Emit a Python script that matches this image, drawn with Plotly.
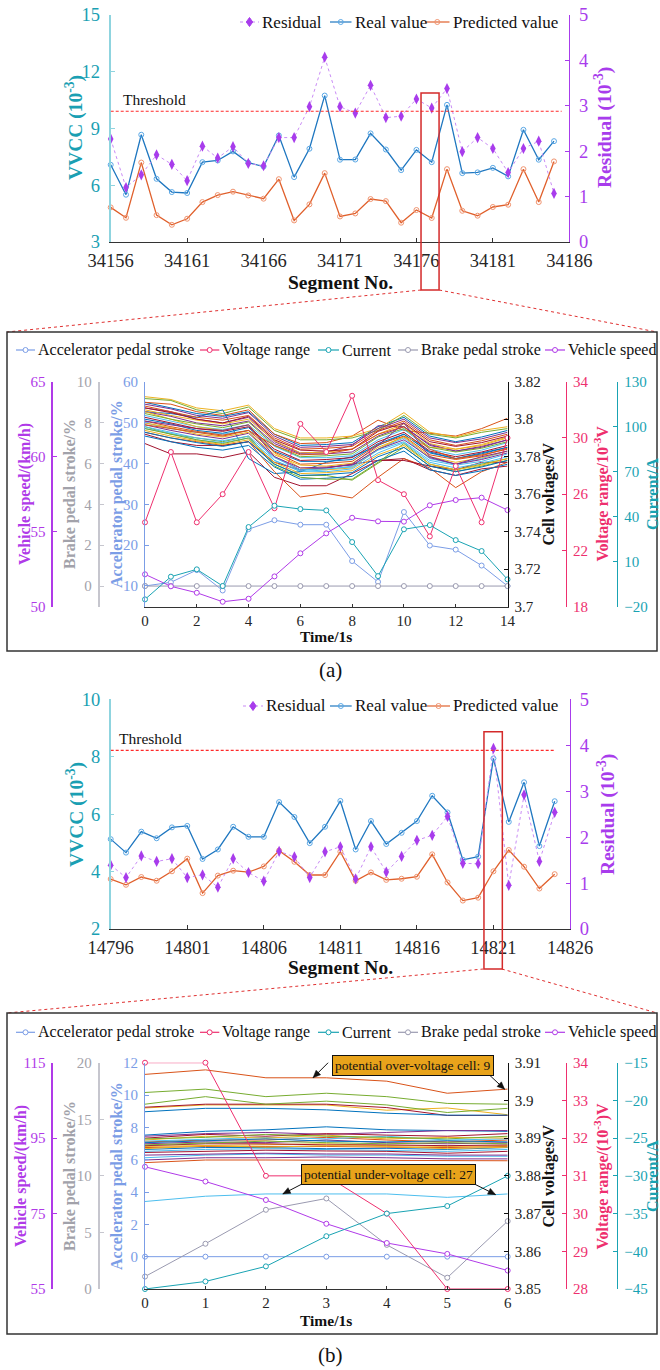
import math
import plotly.graph_objects as go

W, H = 660, 1370
SERIF = "Liberation Serif"


def X(p):
    return p / W


def Y(p):
    return 1 - p / H


# ---------------------------------------------------------------- colours
TEAL = "#1a9fb3"
TEAL_LINE = "#8fd4df"
VIOLET = "#a83cec"
RES_LINE = "#c98bf5"
REAL = "#1f77c0"
REAL_MK = "#5aa8e6"
PRED = "#e0602c"
PRED_MK = "#f09470"
THR = "#ff2a2a"
BOX_RED = "#d42a2a"
ACC = "#7b9de6"
VR = "#ee2f6e"
CUR = "#19a3b3"
BRK = "#9a9ab0"
BRK_TXT = "#a2a2aa"
BRK_AX = "#c6c6ce"
SPD = "#b03ae8"
CELL_COLORS = ["#0072BD", "#D95319", "#EDB120", "#7E2F8E", "#77AC30", "#4DBEEE", "#A2142F"]

# ---------------------------------------------------------------- (a) segment-level VVCC
seg_a = list(range(34156, 34186))
real_a = [7.08, 5.50, 8.67, 6.34, 5.64, 5.59, 7.22, 7.31, 7.79, 7.19, 6.99, 8.63, 6.43, 7.93, 10.74,
          7.35, 7.36, 8.74, 7.89, 6.80, 7.87, 7.22, 10.25, 6.64, 6.68, 6.92, 6.47, 8.93, 7.35, 8.33]
pred_a = [4.83, 4.28, 7.20, 4.42, 3.91, 4.23, 5.11, 5.48, 5.66, 5.46, 5.29, 6.32, 4.14, 4.99, 6.64,
          4.35, 4.51, 5.27, 5.16, 4.02, 4.69, 4.27, 6.85, 4.65, 4.39, 4.85, 4.97, 6.85, 5.11, 7.26]
resid_a = [2.27, 1.20, 1.48, 1.92, 1.71, 1.35, 2.11, 1.85, 2.10, 1.73, 1.68, 2.30, 2.30, 2.98, 4.07,
           2.98, 2.84, 3.45, 2.74, 2.77, 3.15, 2.95, 3.38, 1.99, 2.30, 2.06, 1.53, 2.06, 2.22, 1.07]
threshold_a = 2.88
flag_a = 34177

# ---------------------------------------------------------------- (a) 15 s window
time_a = list(range(15))
accel_a = [10.0, 10.9, 13.9, 8.9, 23.9, 26.1, 25.0, 25.0, 16.1, 11.0, 28.1, 19.9, 18.9, 15.0, 10.0]
vrange_a = [24, 29, 24, 26, 29, 25, 31, 29, 33, 27, 26, 23, 28, 24, 30]
current_a = [-15.1, 0.0, 4.9, -6.2, 33.1, 47.3, 45.1, 44.2, 23.1, 0.4, 31.6, 34.4, 24.4, 17.1, -1.8]
brake_a = [0, 0, 0, 0, 0, 0, 0, 0, 0, 0, 0, 0, 0, 0, 0]
speed_a = [52.16, 51.36, 50.93, 50.33, 50.53, 52.02, 53.56, 54.89, 55.93, 55.69, 55.67, 56.76, 57.11, 57.27, 56.44]
cells_a = [
    [3.809, 3.806, 3.803, 3.8015, 3.804, 3.792, 3.786, 3.7865, 3.7875, 3.796, 3.801, 3.791, 3.788, 3.7905, 3.794],
    [3.809, 3.808, 3.804, 3.802, 3.805, 3.792, 3.787, 3.7875, 3.791, 3.7995, 3.794, 3.7925, 3.791, 3.795, 3.8005],
    [3.812, 3.8105, 3.806, 3.8045, 3.8075, 3.795, 3.790, 3.790, 3.791, 3.795, 3.8035, 3.793, 3.7905, 3.794, 3.796],
    [3.806, 3.804, 3.800, 3.798, 3.801, 3.788, 3.782, 3.7825, 3.786, 3.7965, 3.796, 3.786, 3.783, 3.785, 3.789],
    [3.811, 3.810, 3.805, 3.803, 3.8065, 3.794, 3.789, 3.789, 3.790, 3.794, 3.802, 3.792, 3.790, 3.793, 3.795],
    [3.798, 3.795, 3.793, 3.792, 3.794, 3.778, 3.772, 3.773, 3.775, 3.784, 3.790, 3.779, 3.776, 3.779, 3.783],
    [3.787, 3.7815, 3.7815, 3.7795, 3.7825, 3.769, 3.7645, 3.7645, 3.771, 3.778, 3.779, 3.773, 3.770, 3.7735, 3.775],
    [3.804, 3.803, 3.801, 3.805, 3.779, 3.771, 3.772, 3.777, 3.780, 3.786, 3.792, 3.782, 3.779, 3.782, 3.785],
    [3.793, 3.790, 3.788, 3.786, 3.788, 3.772, 3.7585, 3.7605, 3.758, 3.769, 3.779, 3.774, 3.7635, 3.772, 3.777],
    [3.805, 3.802, 3.7995, 3.7975, 3.800, 3.7885, 3.782, 3.7825, 3.784, 3.792, 3.7975, 3.787, 3.784, 3.7865, 3.7905],
    [3.804, 3.8015, 3.798, 3.7965, 3.799, 3.787, 3.7815, 3.7815, 3.7825, 3.791, 3.796, 3.7865, 3.783, 3.7855, 3.789],
    [3.796, 3.792, 3.790, 3.788, 3.791, 3.776, 3.770, 3.770, 3.7675, 3.7765, 3.785, 3.775, 3.772, 3.775, 3.778],
    [3.802, 3.799, 3.796, 3.7945, 3.797, 3.7855, 3.7795, 3.7795, 3.7805, 3.789, 3.7945, 3.784, 3.781, 3.7835, 3.7875],
    [3.792, 3.788, 3.786, 3.786, 3.788, 3.777, 3.773, 3.774, 3.776, 3.778, 3.778, 3.775, 3.773, 3.777, 3.777],
    [3.800, 3.7975, 3.794, 3.7925, 3.7955, 3.783, 3.7775, 3.7775, 3.7785, 3.787, 3.792, 3.7825, 3.779, 3.7815, 3.785],
    [3.807, 3.804, 3.801, 3.7995, 3.802, 3.790, 3.784, 3.7845, 3.7855, 3.794, 3.799, 3.789, 3.786, 3.7885, 3.792],
    [3.804, 3.800, 3.796, 3.794, 3.797, 3.782, 3.774, 3.773, 3.774, 3.784, 3.791, 3.785, 3.784, 3.786, 3.790],
    [3.797, 3.794, 3.7915, 3.7895, 3.7925, 3.780, 3.774, 3.7745, 3.7755, 3.784, 3.789, 3.7795, 3.776, 3.7785, 3.782],
    [3.803, 3.800, 3.7975, 3.7955, 3.7985, 3.786, 3.780, 3.7805, 3.7815, 3.7905, 3.795, 3.785, 3.7825, 3.7845, 3.788],
    [3.795, 3.7925, 3.789, 3.7875, 3.790, 3.778, 3.7725, 3.772, 3.7735, 3.782, 3.7875, 3.777, 3.774, 3.7765, 3.780],
    [3.806, 3.8035, 3.800, 3.798, 3.8015, 3.789, 3.7835, 3.783, 3.784, 3.7935, 3.798, 3.788, 3.7855, 3.7875, 3.791],
    [3.791, 3.788, 3.785, 3.7835, 3.786, 3.7745, 3.768, 3.7685, 3.7695, 3.778, 3.783, 3.773, 3.770, 3.7725, 3.776],
    [3.799, 3.796, 3.7935, 3.7915, 3.794, 3.7825, 3.776, 3.7765, 3.7775, 3.7865, 3.791, 3.781, 3.7785, 3.7805, 3.7845],
    [3.798, 3.7955, 3.792, 3.7905, 3.793, 3.781, 3.7755, 3.775, 3.7765, 3.785, 3.7905, 3.780, 3.777, 3.7795, 3.783],
    [3.799, 3.797, 3.795, 3.794, 3.797, 3.780, 3.773, 3.774, 3.776, 3.786, 3.798, 3.780, 3.776, 3.780, 3.783],
    [3.795, 3.792, 3.789, 3.787, 3.790, 3.775, 3.769, 3.768, 3.768, 3.777, 3.787, 3.776, 3.773, 3.776, 3.779],
    [3.796, 3.793, 3.790, 3.7885, 3.791, 3.7795, 3.773, 3.7735, 3.7745, 3.7835, 3.788, 3.778, 3.7755, 3.7775, 3.7815],
    [3.801, 3.798, 3.795, 3.7935, 3.796, 3.784, 3.778, 3.7785, 3.7795, 3.788, 3.793, 3.783, 3.780, 3.7825, 3.786],
    [3.793, 3.790, 3.7875, 3.7855, 3.788, 3.776, 3.770, 3.7705, 3.7715, 3.780, 3.785, 3.775, 3.772, 3.7745, 3.778],
    [3.797, 3.795, 3.793, 3.791, 3.794, 3.786, 3.781, 3.7815, 3.784, 3.792, 3.796, 3.784, 3.779, 3.781, 3.784],
    [3.794, 3.791, 3.7885, 3.7865, 3.789, 3.777, 3.771, 3.7715, 3.7725, 3.781, 3.786, 3.776, 3.773, 3.7755, 3.779],
    [3.808, 3.8055, 3.802, 3.8005, 3.8035, 3.791, 3.785, 3.7855, 3.7865, 3.795, 3.800, 3.790, 3.7875, 3.7895, 3.793],
]
cell_ticks_a = [3.70, 3.72, 3.74, 3.76, 3.78, 3.80, 3.82]
cell_labels_a = ["3.7", "3.72", "3.74", "3.76", "3.78", "3.8", "3.82"]

# ---------------------------------------------------------------- (b) segment-level VVCC
seg_b = list(range(14796, 14826))
real_b = [5.13, 4.66, 5.39, 5.16, 5.54, 5.59, 4.44, 4.77, 5.56, 5.21, 5.21, 6.42, 5.90, 4.99, 5.56,
          6.46, 4.77, 5.76, 4.96, 5.35, 5.76, 6.64, 6.06, 4.41, 4.52, 7.94, 5.73, 7.11, 4.89, 6.45]
pred_b = [3.74, 3.54, 3.81, 3.68, 4.01, 4.45, 3.25, 3.86, 4.03, 3.98, 4.18, 4.73, 4.34, 3.88, 3.88,
          4.69, 3.68, 3.97, 3.71, 3.75, 3.82, 4.60, 3.62, 2.99, 3.09, 4.01, 4.75, 4.17, 3.41, 3.91]
resid_b = [1.39, 1.12, 1.59, 1.47, 1.53, 1.12, 1.18, 0.91, 1.53, 1.23, 1.04, 1.69, 1.57, 1.12, 1.68,
           1.79, 1.09, 1.79, 1.24, 1.58, 1.93, 2.04, 2.45, 1.43, 1.42, 3.93, 0.95, 2.92, 1.47, 2.54]
threshold_b = 3.89
flag_b = 14821

# ---------------------------------------------------------------- (b) 7 s window
time_b = [0, 1, 2, 3, 4, 5, 6]
accel_b = [0, 0, 0, 0, 0, 0, 0]
vrange_b = [34, 34, 31, 31, 30, 28, 28]
current_b = [-45, -44, -42, -38, -35, -34, -30]
brake_b = [1.1, 4.0, 7.0, 8.0, 3.9, 1.0, 6.0]
speed_b = [87.4, 83.5, 78.6, 72.3, 67.2, 64.3, 59.9]
cells_b = [
    [3.8908, 3.8918, 3.8922, 3.8930, 3.8922, 3.8920, 3.8918],
    [3.8890, 3.8895, 3.8895, 3.8902, 3.8895, 3.8890, 3.8895],
    [3.8980, 3.8988, 3.8988, 3.8988, 3.8974, 3.8980, 3.8962],
    [3.8905, 3.8912, 3.8915, 3.8910, 3.8915, 3.8920, 3.8920],
    [3.9021, 3.9030, 3.9010, 3.9019, 3.9010, 3.8992, 3.8990],
    [3.8892, 3.8898, 3.8902, 3.8898, 3.8905, 3.8895, 3.8898],
    [3.8982, 3.8990, 3.8990, 3.8990, 3.8981, 3.8960, 3.8960],
    [3.8970, 3.8979, 3.8979, 3.8975, 3.8966, 3.8961, 3.8961],
    [3.9069, 3.9081, 3.9060, 3.9060, 3.9051, 3.9019, 3.9030],
    [3.8895, 3.8905, 3.8900, 3.8908, 3.8898, 3.8902, 3.8900],
    [3.8885, 3.8890, 3.8888, 3.8895, 3.8888, 3.8885, 3.8888],
    [3.8990, 3.9010, 3.8990, 3.8998, 3.8988, 3.8968, 3.8979],
    [3.8848, 3.8855, 3.8858, 3.8855, 3.8855, 3.8852, 3.8852],
    [3.8900, 3.8910, 3.8905, 3.8912, 3.8908, 3.8905, 3.8912],
    [3.8888, 3.8892, 3.8898, 3.8892, 3.8890, 3.8893, 3.8890],
    [3.8875, 3.8878, 3.8878, 3.8878, 3.8876, 3.8875, 3.8878],
    [3.8878, 3.8880, 3.8882, 3.8885, 3.8880, 3.8878, 3.8880],
    [3.8855, 3.8858, 3.8860, 3.8858, 3.8858, 3.8855, 3.8855],
    [3.8898, 3.8902, 3.8910, 3.8905, 3.8902, 3.8898, 3.8905],
    [3.8865, 3.8870, 3.8872, 3.8870, 3.8868, 3.8865, 3.8870],
    [3.8880, 3.8885, 3.8885, 3.8882, 3.8882, 3.8880, 3.8882],
    [3.8870, 3.8875, 3.8875, 3.8872, 3.8873, 3.8870, 3.8875],
    [3.8835, 3.8842, 3.8842, 3.8842, 3.8842, 3.8840, 3.8840],
    [3.8872, 3.8880, 3.8876, 3.8880, 3.8878, 3.8872, 3.8876],
    [3.8842, 3.8848, 3.8848, 3.8850, 3.8848, 3.8845, 3.8845],
    [3.8882, 3.8888, 3.8892, 3.8888, 3.8885, 3.8888, 3.8885],
    [3.8732, 3.8746, 3.8752, 3.8752, 3.8752, 3.8743, 3.8752],
    [3.8862, 3.8865, 3.8868, 3.8866, 3.8865, 3.8860, 3.8865],
]
over_cell = 9
under_cell = 27
cell_ticks_b = [3.85, 3.86, 3.87, 3.88, 3.89, 3.90, 3.91]
cell_labels_b = ["3.85", "3.86", "3.87", "3.88", "3.89", "3.9", "3.91"]

legend_top = ["Residual", "Real value", "Predicted value"]
legend_panel = ["Accelerator pedal stroke", "Voltage range", "Current", "Brake pedal stroke", "Vehicle speed"]

# ================================================================ figure
fig = go.Figure()
shapes, annots = [], []


def add_top(xa, ya, yr, segs, real, pred, resid):
    fig.add_trace(go.Scatter(x=segs, y=real, xaxis=xa, yaxis=ya, mode="lines+markers",
                             line=dict(color=REAL, width=1.3),
                             marker=dict(symbol="circle-open", size=5, color=REAL_MK, line=dict(width=1)),
                             cliponaxis=False))
    fig.add_trace(go.Scatter(x=segs, y=pred, xaxis=xa, yaxis=ya, mode="lines+markers",
                             line=dict(color=PRED, width=1.3),
                             marker=dict(symbol="circle-open", size=5, color=PRED_MK, line=dict(width=1)),
                             cliponaxis=False))
    fig.add_trace(go.Scatter(x=segs, y=resid, xaxis=xa, yaxis=yr, mode="lines+markers",
                             line=dict(color=RES_LINE, width=1, dash="dot"),
                             marker=dict(symbol="diamond-tall", size=8, color=VIOLET),
                             cliponaxis=False))


def add_panel(xa, ycell, yacc, ybrk, yspd, yvr, ycur, t, cells, acc, brk, spd, vr, cur):
    for i, row in enumerate(cells):
        fig.add_trace(go.Scatter(x=t, y=row, xaxis=xa, yaxis=ycell, mode="lines",
                                 line=dict(color=CELL_COLORS[i % 7], width=1), hoverinfo="skip"))
    for vals, ya, col in [(acc, yacc, ACC), (brk, ybrk, BRK), (spd, yspd, SPD), (vr, yvr, VR), (cur, ycur, CUR)]:
        fig.add_trace(go.Scatter(x=t, y=vals, xaxis=xa, yaxis=ya, mode="lines+markers",
                                 line=dict(color=col, width=1),
                                 marker=dict(symbol="circle", size=5, color="white", line=dict(color=col, width=1)),
                                 cliponaxis=False))


add_top("x", "y", "y2", seg_a, real_a, pred_a, resid_a)
add_panel("x2", "y3", "y4", "y5", "y6", "y7", "y8", time_a, cells_a, accel_a, brake_a, speed_a, vrange_a, current_a)
add_top("x3", "y9", "y10", seg_b, real_b, pred_b, resid_b)
add_panel("x4", "y11", "y12", "y13", "y14", "y15", "y16", time_b, cells_b, accel_b, brake_b, speed_b, vrange_b, current_b)


# ---------------------------------------------------------------- axes
def xax(domain, rng, tickvals, anchor, size, ticklen=4, standoff=0):
    return dict(domain=domain, range=rng, tickmode="array", tickvals=tickvals, anchor=anchor,
                tickformat="d", automargin=False, ticklabelstandoff=standoff,
                showgrid=False, zeroline=False, showline=True, linecolor="#333", linewidth=1,
                ticks="inside", ticklen=ticklen, tickcolor="#333",
                tickfont=dict(family=SERIF, size=size, color="#262626"))


def yax(rng, tickvals, color, linecolor=None, size=15, side="left", anchor=None, position=None,
        overlaying=None, domain=None, linewidth=1, ticktext=None, standoff=3):
    lc = linecolor or color
    d = dict(range=rng, tickmode="array", tickvals=tickvals, side=side, showgrid=False, zeroline=False,
             automargin=False,
             showline=True, linecolor=lc, linewidth=linewidth, ticks="inside", ticklen=4, tickcolor=lc,
             tickfont=dict(family=SERIF, size=size, color=color), ticklabelstandoff=standoff)
    if ticktext is not None:
        d["ticktext"] = ticktext
    if domain is not None:
        d["domain"] = domain
    if overlaying:
        d["overlaying"] = overlaying
    if position is not None:
        d["anchor"] = "free"
        d["position"] = position
    else:
        d["anchor"] = anchor
    return d


top_a_dom_y = [Y(242), Y(15)]
panel_a_dom_y = [Y(606.7), Y(381.7)]
top_b_dom_y = [Y(929), Y(699.3)]
panel_b_dom_y = [Y(1289), Y(1062.7)]
panel_b_x = (145, 507.7)

layout_axes = dict(
    xaxis=xax([X(110.7), X(569.3)], [34156, 34186], list(range(34156, 34187, 5)), "y", 18.5, standoff=2),
    yaxis=yax([3, 15], [3, 6, 9, 12, 15], TEAL, TEAL_LINE, 18.5, "left", "x", domain=top_a_dom_y,
              linewidth=2, standoff=5),
    yaxis2=yax([0, 5], [0, 1, 2, 3, 4, 5], VIOLET, VIOLET, 18.5, "right", "x", overlaying="y", standoff=5),

    xaxis2=xax([X(145), X(507.5)], [0, 14], list(range(0, 15, 2)), "y3", 15, ticklen=3),
    yaxis3=yax([3.70, 3.82], cell_ticks_a, "#222", "#111", 15, "right", "x2", domain=panel_a_dom_y,
               ticktext=cell_labels_a),
    yaxis4=yax([4.93, 60], [10, 20, 30, 40, 50, 60], ACC, ACC, 15, "left", "x2", overlaying="y3"),
    yaxis5=yax([-1.01, 10], [0, 2, 4, 6, 8, 10], BRK_TXT, BRK_AX, 15, "left", position=X(98.7),
               overlaying="y3", linewidth=2),
    yaxis6=yax([50, 65], [50, 55, 60, 65], SPD, SPD, 15, "left", position=X(52.3), overlaying="y3",
               linewidth=1.5),
    yaxis7=yax([18, 34], [18, 22, 26, 30, 34], VR, VR, 15, "right", position=X(566), overlaying="y3"),
    yaxis8=yax([-20, 130], [-20, 10, 40, 70, 100, 130], CUR, CUR, 15, "right", position=X(617.3),
               overlaying="y3"),

    xaxis3=xax([X(110.7), X(570)], [14796, 14826], list(range(14796, 14827, 5)), "y9", 18.5, standoff=2),
    yaxis9=yax([2, 10], [2, 4, 6, 8, 10], TEAL, TEAL_LINE, 18.5, "left", "x3", domain=top_b_dom_y,
               linewidth=1.5, standoff=5),
    yaxis10=yax([0, 5], [0, 1, 2, 3, 4, 5], VIOLET, VIOLET, 18.5, "right", "x3", overlaying="y9", standoff=5),

    xaxis4=xax([X(panel_b_x[0]), X(panel_b_x[1])], [0, 6], list(range(0, 7)), "y11", 15, ticklen=3),
    yaxis11=yax([3.85, 3.91], cell_ticks_b, "#222", "#111", 15, "right", "x4", domain=panel_b_dom_y,
                ticktext=cell_labels_b),
    yaxis12=yax([-2, 12], [0, 2, 4, 6, 8, 10, 12], ACC, ACC, 15, "left", "x4", overlaying="y11"),
    yaxis13=yax([0, 20], [0, 5, 10, 15, 20], BRK_TXT, BRK_AX, 15, "left", position=X(98.7),
                overlaying="y11", linewidth=2),
    yaxis14=yax([55, 115], [55, 75, 95, 115], SPD, SPD, 15, "left", position=X(52.3), overlaying="y11",
                linewidth=1.5),
    yaxis15=yax([28, 34], [28, 29, 30, 31, 32, 33, 34], VR, VR, 15, "right", position=X(566),
                overlaying="y11"),
    yaxis16=yax([-45, -15], [-45, -40, -35, -30, -25, -20, -15], CUR, CUR, 15, "right",
                position=X(617.3), overlaying="y11"),
)


# ---------------------------------------------------------------- text helpers
def txt(x, y, s, size, color="#111", bold=False, angle=0, xanchor="center", **kw):
    if bold:
        s = "<b>" + s + "</b>"
    d = dict(x=X(x), y=Y(y), xref="paper", yref="paper", text=s, showarrow=False,
             font=dict(family=SERIF, size=size, color=color), textangle=angle,
             xanchor=xanchor, yanchor="middle")
    d.update(kw)
    annots.append(d)


def legend_item(x0, x1, y, color, dash, mk, mk_line, mk_fill, label, size):
    shapes.append(dict(type="line", xref="paper", yref="paper", x0=X(x0), x1=X(x1), y0=Y(y), y1=Y(y),
                       line=dict(color=color, width=1.2, dash=dash)))
    xc = (x0 + x1) / 2
    if mk == "diamond":
        shapes.append(dict(type="path", xref="paper", yref="paper", xsizemode="pixel", ysizemode="pixel",
                           xanchor=X(xc), yanchor=Y(y), path="M0,4.5 L3.2,0 L0,-4.5 L-3.2,0 Z",
                           fillcolor=mk_line, line=dict(color=mk_line, width=1)))
    else:
        shapes.append(dict(type="circle", xref="paper", yref="paper", xsizemode="pixel", ysizemode="pixel",
                           xanchor=X(xc), yanchor=Y(y), x0=-2.5, x1=2.5, y0=-2.5, y1=2.5,
                           fillcolor=mk_fill, line=dict(color=mk_line, width=1)))
    txt(x1 + 1, y, label, size, "#111", xanchor="left")


# ---------------------------------------------------------------- top chart decorations
def top_decor(xref, yref_res, thr, thr_x1, x0seg, flag, flag_half, rect_top, rect_bot,
              legend_y, leg_x, vvcc_y, res_x, seg_y, thr_txt, panel_top):
    shapes.append(dict(type="line", xref=xref, yref=yref_res, x0=x0seg, x1=thr_x1, y0=thr, y1=thr,
                       line=dict(color=THR, width=1.2, dash="3px,2px")))
    txt(thr_txt[0], thr_txt[1], "Threshold", 15.5, "#111", xanchor="left")
    shapes.append(dict(type="rect", xref=xref, yref="paper", x0=flag - flag_half[0], x1=flag + flag_half[1],
                       y0=Y(rect_bot), y1=Y(rect_top), line=dict(color=BOX_RED, width=1.5)))
    # zoom guides toward the detail panel
    xl = (flag - flag_half[0] - x0seg) * 15.29 + 110.7
    xr = (flag + flag_half[1] - x0seg) * 15.29 + 110.7
    for xa_, xb_ in [(xl, 7), (xr, 657)]:
        shapes.append(dict(type="line", xref="paper", yref="paper", x0=X(xa_), x1=X(xb_),
                           y0=Y(rect_bot), y1=Y(panel_top), line=dict(color="#e03030", width=1, dash="dot")))
    legend_item(leg_x[0][0], leg_x[0][1], legend_y, RES_LINE, "dot", "diamond", VIOLET, VIOLET, legend_top[0], 17)
    legend_item(leg_x[1][0], leg_x[1][1], legend_y, REAL, "solid", "circle", REAL_MK, "rgba(0,0,0,0)", legend_top[1], 17)
    legend_item(leg_x[2][0], leg_x[2][1], legend_y, PRED, "solid", "circle", PRED_MK, "rgba(0,0,0,0)", legend_top[2], 17)
    txt(75, vvcc_y, "VVCC (10<sup>-3</sup>)", 19.5, TEAL, bold=True, angle=-90)
    txt(res_x, vvcc_y, "Residual (10<sup>-3</sup>)", 19.5, VIOLET, bold=True, angle=-90)
    txt(340, seg_y, "Segment No.", 19.5, "#111", bold=True)


top_decor("x", "y2", threshold_a, 34185.5, 34156, flag_a, (0.7, 0.48), 93, 290,
          22, [(240, 259), (330, 351.5), (425, 449.5)], 128, 604, 282, (121, 99), 332)
top_decor("x3", "y10", threshold_b, 14825, 14796, flag_b, (0.62, 0.58), 731.7, 969,
          706, [(243, 263), (330, 351.7), (427, 450)], 815, 606, 967, (117, 738), 1013)


# ---------------------------------------------------------------- panel decorations
def panel_decor(top, bot, leg_y, mid_y, time_y, vr_title, spd_x):
    shapes.append(dict(type="rect", xref="paper", yref="paper", x0=X(7), x1=X(657), y0=Y(bot), y1=Y(top),
                       line=dict(color="#333", width=1.5)))
    cols = [ACC, VR, CUR, BRK, SPD]
    xs = [(16, 35), (200, 219.3), (318, 339), (398, 418), (545, 565)]
    for (a, b), c, lab in zip(xs, cols, legend_panel):
        legend_item(a, b, leg_y, c, "solid", "circle", c, "white", lab, 16)
    txt(spd_x, mid_y, "Vehicle speed/(km/h)", 16, SPD, bold=True, angle=-90)
    txt(70, mid_y, "Brake pedal stroke/%", 16, BRK_TXT, bold=True, angle=-90)
    txt(117, mid_y, "Accelerator pedal stroke/%", 16, ACC, bold=True, angle=-90)
    txt(548.5, mid_y, "Cell voltages/V", 16, "#111", bold=True, angle=-90)
    txt(601.5, mid_y, vr_title, 16, VR, bold=True, angle=-90)
    txt(652, mid_y, "Current/A", 16, CUR, bold=True, angle=-90)
    txt(326, time_y, "Time/1s", 15.5, "#111", bold=True)


panel_decor(332, 651, 350, 494, 636.5, "Voltage range/10<sup>-3</sup>V", 25)
panel_decor(1013, 1334, 1032.3, 1176, 1320, "Voltage range/(10<sup>-3</sup>)V", 21)

txt(330, 670, "(a)", 21, "#111")
txt(330, 1355, "(b)", 21, "#111")

# ---------------------------------------------------------------- (b) call-outs
GOLD = "#e8a31b"
txt(412.5, 1065, "potential over-voltage cell: " + str(over_cell), 13.5, "#111",
    bgcolor=GOLD, bordercolor="#111", borderwidth=1, borderpad=2)
txt(388.5, 1174, "potential under-voltage cell: " + str(under_cell), 13.5, "#111",
    bgcolor=GOLD, bordercolor="#111", borderwidth=1, borderpad=2)

# arrows from the call-outs to the flagged cell traces (tail offsets in pixels)
t_per_px = 6 / (panel_b_x[1] - panel_b_x[0])
v_per_px = 0.06 / (1289 - 1062.7)
over_row = cells_b[over_cell - 1]
under_row = cells_b[under_cell - 1]
for (tx, row, ax, ay) in [(2.78, over_row, 20, -20), (5.95, over_row, -16, -15),
                          (2.28, under_row, 25, -13), (5.8, under_row, -26, -13)]:
    i0 = int(tx)
    yv = row[i0] + (row[i0 + 1] - row[i0]) * (tx - i0)
    shapes.append(dict(type="line", xref="x4", yref="y11", x0=tx + ax * t_per_px, y0=yv - ay * v_per_px,
                       x1=tx, y1=yv, line=dict(color="#111", width=1)))
    ux, uy = -ax, ay
    n = math.hypot(ux, uy)
    ux, uy = ux / n, uy / n
    L, w = 7.5, 3.2
    bx, by = -L * ux, -L * uy
    lx, ly = bx - w * uy, by + w * ux
    rx, ry = bx + w * uy, by - w * ux
    shapes.append(dict(type="path", xref="x4", yref="y11", xsizemode="pixel", ysizemode="pixel",
                       xanchor=tx, yanchor=yv,
                       path=f"M0,0 L{lx:.2f},{ly:.2f} L{rx:.2f},{ry:.2f} Z",
                       fillcolor="#111", line=dict(color="#111", width=0.5)))

fig.update_layout(
    width=W, height=H, autosize=False, margin=dict(l=0, r=0, t=0, b=0, autoexpand=False),
    paper_bgcolor="white", plot_bgcolor="rgba(0,0,0,0)", showlegend=False,
    font=dict(family=SERIF, color="#111"), hovermode=False,
    shapes=shapes, annotations=annots, **layout_axes,
)

fig.write_html("out.html")
